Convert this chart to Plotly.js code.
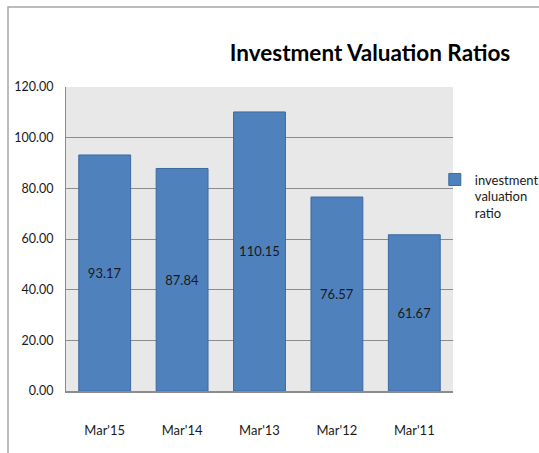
<!DOCTYPE html>
<html>
<head>
<meta charset="utf-8">
<script src="https://cdn.plot.ly/plotly-3.0.1.min.js"></script>
<style>html,body{margin:0;padding:0;background:#fff;}#chart{width:539px;height:453px;}</style>
</head>
<body>
<div id="chart"></div>
<script>
const categories = ["Mar'15", "Mar'14", "Mar'13", "Mar'12", "Mar'11"];
const values = [93.17, 87.84, 110.15, 76.57, 61.67];
const seriesName = "investment<br>valuation<br>ratio";
const yTicks = [0, 20, 40, 60, 80, 100, 120];

const FONT = "Lato, 'Liberation Sans', sans-serif";

const trace = {
  type: 'bar',
  x: categories,
  y: values,
  name: seriesName,
  marker: {color: '#4F81BD', line: {color: '#3B6AA0', width: 1}},
  text: values.map(v => v.toFixed(2)),
  textposition: 'inside',
  insidetextanchor: 'middle',
  textangle: 0,
  textfont: {family: FONT, size: 13, color: '#1a1a1a'},
  hoverinfo: 'none',
  showlegend: true
};

const layout = {
  width: 539, height: 453,
  margin: {l: 66, r: 86, t: 87, b: 62, autoexpand: false},
  paper_bgcolor: '#ffffff',
  plot_bgcolor: '#e8e8e8',
  font: {family: FONT, size: 13, color: '#1a1a1a'},
  title: {
    text: '<b>Investment Valuation Ratios</b>',
    font: {family: FONT, size: 22.5, color: '#000'},
    x: 370 / 539, xanchor: 'center', xref: 'container',
    y: 1 - 53 / 453, yanchor: 'middle', yref: 'container'
  },
  bargap: 0.33,
  xaxis: {
    type: 'category',
    showgrid: false,
    showline: true, linecolor: '#8c8c8c', linewidth: 1.5,
    ticks: 'outside', ticklen: 27, tickcolor: 'rgba(0,0,0,0)',
    tickfont: {family: FONT, size: 13, color: '#1a1a1a'},
    fixedrange: true
  },
  yaxis: {
    range: [0, 120],
    tickvals: yTicks,
    ticktext: yTicks.map(v => v.toFixed(2)),
    showgrid: true, gridcolor: '#8c8c8c', gridwidth: 1,
    showline: true, linecolor: '#8c8c8c', linewidth: 1,
    zeroline: false,
    ticks: 'outside', ticklen: 0,
    ticklabelstandoff: 9,
    tickfont: {family: FONT, size: 12.5, color: '#1a1a1a'},
    fixedrange: true
  },
  legend: {
    x: 0.953, xanchor: 'left',
    y: 0.745, yanchor: 'top',
    valign: 'top',
    font: {family: FONT, size: 13, color: '#1a1a1a'},
    bgcolor: 'rgba(0,0,0,0)',
    itemwidth: 30
  },
  shapes: [{
    type: 'rect', xref: 'paper', yref: 'paper',
    x0: (8 - 66) / 387, x1: 1.6,
    y0: -0.5, y1: 1 + (87 - 7) / 304,
    line: {color: '#a6a6a6', width: 1.5}, fillcolor: 'rgba(0,0,0,0)', layer: 'below'
  }]
};

Plotly.newPlot('chart', [trace], layout, {displayModeBar: false, staticPlot: true});
</script>
</body>
</html>
